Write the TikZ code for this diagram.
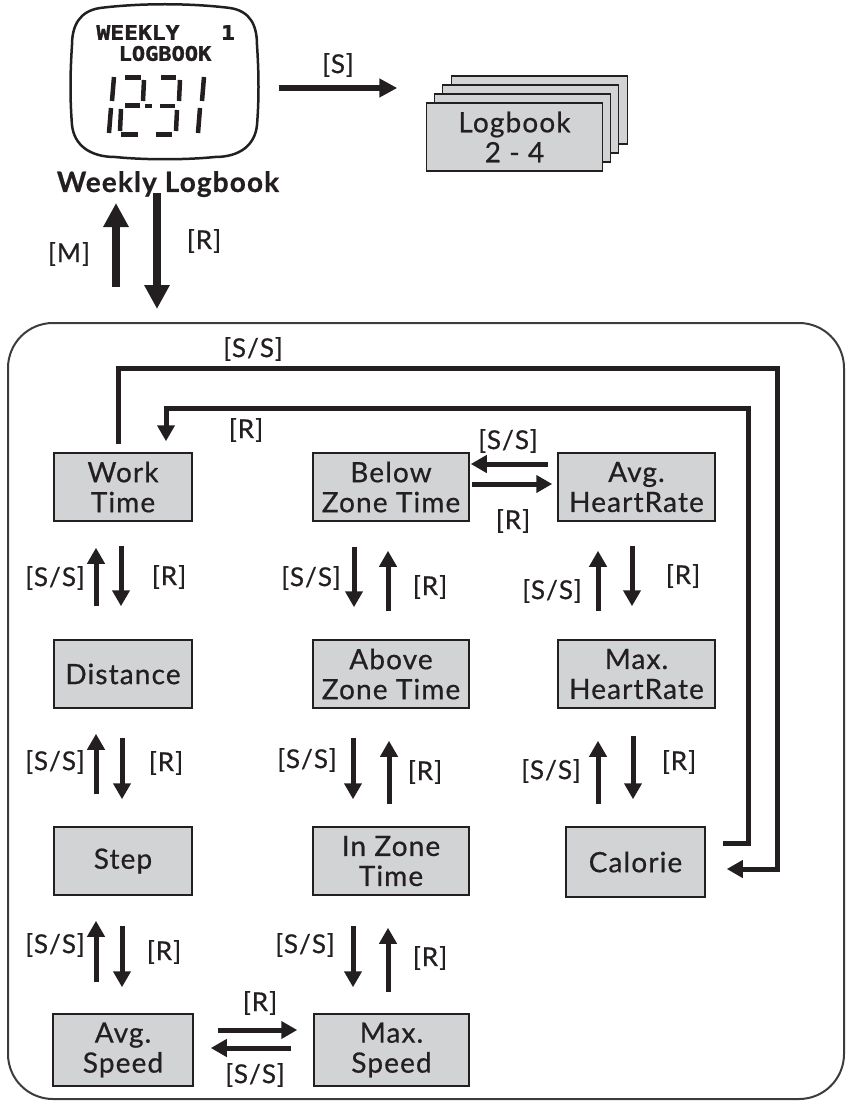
\documentclass[tikz,border=0pt]{standalone}
\usepackage{fontspec}
\usepackage{graphicx}
\setmainfont{Lato}[LetterSpace=4,FakeBold=0.6]
\newfontfamily\lcdfont{DejaVu Sans Mono}[FakeBold=1.5]
\usetikzlibrary{arrows.meta,calc}
\definecolor{boxgray}{HTML}{D1D3D4}
\definecolor{ink}{HTML}{231F20}
\definecolor{frameline}{HTML}{3C3C3C}
\begin{document}
\begin{tikzpicture}[x=1pt,y=-1pt,
  box/.style={draw=ink,line width=1.5pt,fill=boxgray,inner sep=0pt,align=center,
    text=ink,font=\fontsize{28}{30}\selectfont},
  lbl/.style={inner sep=0pt,text=ink,font=\fontsize{26}{28}\selectfont},
  arr/.style={draw=ink,line width=5pt,line join=miter,-{Triangle[length=16pt,width=17pt]}},
  sarr/.style={draw=ink,line width=6.5pt,-{Triangle[length=18pt,width=18pt]}},
  bigarr/.style={draw=ink,line width=8pt,-{Triangle[length=24pt,width=24pt]}},
  seg/.style={draw=ink,line width=4.5pt},
  lcd/.style={inner sep=0pt,text=ink,font=\lcdfont\bfseries\fontsize{20}{20}\selectfont},
]
\useasboundingbox (0,0) rectangle (848,1102);

% ---------- watch face ----------
\node[minimum width=185pt,minimum height=151pt,inner sep=0pt] (watch) at (164.5,82.5) {};
\draw[ink,line width=2.5pt]
  (100,8) .. controls (140,3) and (190,3) .. (230,8)
  .. controls (250,11) and (257,25) .. (257,45)
  .. controls (259,75) and (259,100) .. (257,125)
  .. controls (255,145) and (240,157) .. (215,157)
  .. controls (185,160) and (145,160) .. (115,157)
  .. controls (90,157) and (74,145) .. (72,125)
  .. controls (70,100) and (70,75) .. (72,45)
  .. controls (72,25) and (80,11) .. (100,8) -- cycle;
\node[lcd] (lcdw) at (138,32.5) {\scalebox{1.15}[1]{WEEKLY}};
\node[lcd] (lcdn) at (228,32.5) {\scalebox{1.15}[1]{1}};
\node[lcd] (lcdl) at (165,53.5) {\scalebox{1.1}[1]{LOGBOOK}};
% seven-segment "12-31"
\draw[seg] (114,77) -- (112,101);  \draw[seg] (111,108) -- (109,133);
\draw[seg] (125,77.5) -- (141,77.5); \draw[seg] (144,80) -- (143,101);
\draw[seg] (125,105.5) -- (140,105.5); \draw[seg] (121,109) -- (120,131);
\draw[seg] (121,134.5) -- (138,134.5);
\draw[ink,line width=4pt] (145,106) -- (152,106);
\draw[seg] (161,77.5) -- (176,77.5); \draw[seg] (180,80) -- (179,101);
\draw[seg] (160,106) -- (175,106); \draw[seg] (177,110) -- (176,131);
\draw[seg] (156,134.5) -- (172,134.5);
\draw[seg] (204,77) -- (202,101);  \draw[seg] (200,108) -- (198,133);

\node[inner sep=0pt,anchor=base,text=ink,font=\bfseries\fontsize{28}{30}\selectfont] (wl) at (168,192) {Weekly Logbook};

% ---------- logbook stack ----------
\foreach \dx/\dy/\nm in {25/-27/lbd,16/-18/lbc,8/-9/lbb}
  \node[box,minimum width=176pt,minimum height=68pt] (\nm) at (514.5+\dx,137+\dy) {};
\node[box,minimum width=176pt,minimum height=68pt] (lb) at (514.5,137) {Logbook\\2 - 4};

\draw[sarr] ($(watch.east)+(22,5.5)$) -- ($(lb.west)+(-28.5,-49)$);
\node[lbl] (lS) at (338,65) {[S]};

% ---------- frame ----------
\node[draw=frameline,line width=2pt,rounded corners=45pt,minimum width=836pt,minimum height=776pt,inner sep=0pt] (frame) at (426,711) {};

\draw[bigarr] ($(frame.north)+(-310,-35)$) -- ($(wl.base)+(-52,11)$);
\draw[bigarr] ($(wl.base)+(-11,1)$) -- ($(frame.north)+(-269,-13)$);
\node[lbl] (lM) at (69,254) {[M]};
\node[lbl] (lR0) at (204,241) {[R]};

% ---------- menu boxes ----------
\node[box,minimum width=138pt,minimum height=68pt] (work) at (123,487) {Work\\Time};
\node[box,minimum width=156pt,minimum height=68pt] (below) at (391,487) {Below\\Zone Time};
\node[box,minimum width=157pt,minimum height=68pt] (avghr) at (636.5,487) {Avg.\\HeartRate};
\node[box,minimum width=138pt,minimum height=68pt] (dist) at (123,674) {Distance};
\node[box,minimum width=156pt,minimum height=68pt] (above) at (391,674) {Above\\Zone Time};
\node[box,minimum width=157pt,minimum height=68pt] (maxhr) at (636.5,674) {Max.\\HeartRate};
\node[box,minimum width=138pt,minimum height=68pt] (step) at (123,861) {Step};
\node[box,minimum width=156pt,minimum height=68pt] (inzone) at (391,861) {In Zone\\Time};
\node[box,minimum width=139pt,minimum height=70pt] (calorie) at (635.5,862) {Calorie};
\node[box,minimum width=140pt,minimum height=72pt] (avgspd) at (123,1050) {Avg.\\Speed};
\node[box,minimum width=155pt,minimum height=72pt] (maxspd) at (391.5,1050) {Max.\\Speed};

% column 1
\draw[arr] ($(dist.north)+(-27,-33)$) -- ($(work.south)+(-27,26)$);
\draw[arr] ($(work.south)+(-2,24)$) -- ($(dist.north)+(-2,-33)$);
\draw[arr] ($(step.north)+(-27,-32)$) -- ($(dist.south)+(-27,25)$);
\draw[arr] ($(dist.south)+(-1,29)$) -- ($(step.north)+(-1,-27)$);
\draw[arr] ($(avgspd.north)+(-27,-31)$) -- ($(step.south)+(-27,25)$);
\draw[arr] ($(step.south)+(-1,30)$) -- ($(avgspd.north)+(-1,-26)$);
\node[lbl] (l1a) at (55,578) {[S/S]};  \node[lbl] (l1b) at (169,577) {[R]};
\node[lbl] (l1c) at (55,762) {[S/S]};  \node[lbl] (l1d) at (166,763) {[R]};
\node[lbl] (l1e) at (55,945) {[S/S]};  \node[lbl] (l1f) at (164,952) {[R]};

% column 2
\draw[arr] ($(below.south)+(-37,25)$) -- ($(above.north)+(-37,-32)$);
\draw[arr] ($(above.north)+(-3,-28)$) -- ($(below.south)+(-3,29)$);
\draw[arr] ($(above.south)+(-38,29)$) -- ($(inzone.north)+(-38,-27)$);
\draw[arr] ($(inzone.north)+(-2,-22)$) -- ($(above.south)+(-2,32)$);
\draw[arr] ($(inzone.south)+(-38,30)$) -- ($(maxspd.north)+(-38.5,-26)$);
\draw[arr] ($(maxspd.north)+(-3.5,-21)$) -- ($(inzone.south)+(-3,32)$);
\node[lbl] (l2a) at (311,578) {[S/S]};  \node[lbl] (l2b) at (430,587) {[R]};
\node[lbl] (l2c) at (307,760) {[S/S]};  \node[lbl] (l2d) at (425,772) {[R]};
\node[lbl] (l2e) at (305,945) {[S/S]};  \node[lbl] (l2f) at (430,958) {[R]};

% column 3
\draw[arr] ($(maxhr.north)+(-38.5,-28)$) -- ($(avghr.south)+(-38.5,29)$);
\draw[arr] ($(avghr.south)+(-4.5,24)$) -- ($(maxhr.north)+(-4.5,-33)$);
\draw[arr] ($(calorie.north)+(-37.5,-22)$) -- ($(maxhr.south)+(-38.5,32)$);
\draw[arr] ($(maxhr.south)+(-3.5,27)$) -- ($(calorie.north)+(-2.5,-27)$);
\node[lbl] (l3a) at (552,591) {[S/S]};  \node[lbl] (l3b) at (683,576) {[R]};
\node[lbl] (l3c) at (551,771) {[S/S]};  \node[lbl] (l3d) at (679,762) {[R]};

% horizontal pairs
\draw[arr] ($(avghr.west)+(-9,-23)$) -- ($(below.east)+(1,-23)$);
\draw[arr] ($(below.east)+(2,-3)$) -- ($(avghr.west)+(-5,-3)$);
\node[lbl] (l4a) at (508,441) {[S/S]};  \node[lbl] (l4b) at (513,521) {[R]};
\draw[arr] ($(avgspd.east)+(24,-20)$) -- ($(maxspd.west)+(-16,-20)$);
\draw[arr] ($(maxspd.west)+(-22,-2)$) -- ($(avgspd.east)+(17,-2)$);
\node[lbl] (l5a) at (260,1003) {[R]};  \node[lbl] (l5b) at (255,1075) {[S/S]};

% wrap-around loops
\coordinate (otr) at (777,368);
\coordinate (itr) at (748,408);
\draw[arr] ($(work.north)+(-5,-8)$) |- (otr) |- ($(calorie.east)+(21,7)$);
\draw[arr] ($(calorie.east)+(17,-19)$) -| (itr) -| ($(work.north)+(43,-11)$);
\node[lbl] (l6a) at (253,349) {[S/S]};
\node[lbl] (l6b) at (246,430) {[R]};
\end{tikzpicture}
\end{document}
